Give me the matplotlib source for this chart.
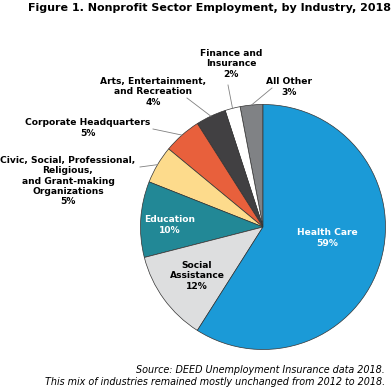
import numpy as np
import matplotlib
matplotlib.use("Agg")
import matplotlib.pyplot as plt

# Data (counterclockwise from 12 o'clock)
categories = ["All Other", "Finance and\nInsurance", "Arts, Entertainment,\nand Recreation",
              "Corporate Headquarters", "Civic, Social, Professional,\nReligious,\nand Grant-making\nOrganizations",
              "Education", "Social\nAssistance", "Health Care"]
values = [3, 2, 4, 5, 5, 10, 12, 59]
colors = ["#808285", "#FFFFFF", "#414042", "#E8603C", "#FDDB8C", "#228896", "#DDDEDF", "#1B9AD7"]

W, H = 392, 388
fig = plt.figure(figsize=(W / 100, H / 100), dpi=100)
ax = fig.add_axes([0, 0, 1, 1])

cx, cy, r = 263, H - 227, 122.5
wedges, _ = ax.pie(values, colors=colors, startangle=90, counterclock=True,
                   center=(cx, cy), radius=r,
                   wedgeprops=dict(edgecolor="#333333", linewidth=0.5))
ax.set_xlim(0, W)
ax.set_ylim(0, H)
ax.set_aspect("equal")
ax.axis("off")

# label positions in pixel (top-left origin); inside=True -> no leader line
label_pos = [
    (289, 87, False, "#000000", (272, 88)),
    (231, 64, False, "#000000", (228, 85)),
    (153, 92, False, "#000000", (187, 98)),
    (88, 128, False, "#000000", (153, 129)),
    (68, 181, False, "#000000", (140, 167)),
    (170, 225, True, "#FFFFFF", None),
    (197, 276, True, "#000000", None),
    (327, 238, True, "#FFFFFF", None),
]

for w, cat, val, (lx, ly, inside, tc, start) in zip(wedges, categories, values, label_pos):
    ax.text(lx, H - ly, f"{cat}\n{val}%", ha="center", va="center",
            fontsize=6.6, fontweight="bold", color=tc, linespacing=1.17,
            family="DejaVu Sans")
    if not inside:
        mid = np.deg2rad((w.theta1 + w.theta2) / 2)
        ex, ey = cx + r * np.cos(mid), cy + r * np.sin(mid)
        ax.plot([start[0], ex], [H - start[1], ey], color="#808080", lw=0.6)

fig.text(0.5 + 14 / W, 1 - 8 / H, "Figure 1. Nonprofit Sector Employment, by Industry, 2018",
         ha="center", va="center", fontsize=8, fontweight="bold")
fig.text(1 - 7 / W, 1 - 370 / H, "Source: DEED Unemployment Insurance data 2018.",
         ha="right", va="center", fontsize=6.9, style="italic")
fig.text(1 - 7 / W, 1 - 382 / H, "This mix of industries remained mostly unchanged from 2012 to 2018.",
         ha="right", va="center", fontsize=6.9, style="italic")

fig.savefig("out.png", dpi=100)
